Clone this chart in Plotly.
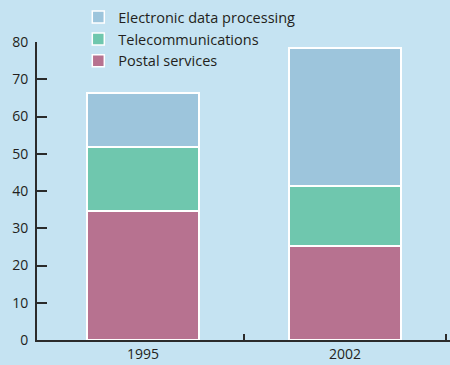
import plotly.graph_objects as go

years = ["1995", "2002"]
postal = [34.6, 25.2]
telecom = [17.2, 16.1]
edp = [14.5, 37.1]

series = [
    ("Postal services", postal, "#b77290"),
    ("Telecommunications", telecom, "#6fc7ae"),
    ("Electronic data processing", edp, "#9dc5dc"),
]

xpos = list(range(len(years)))
fig = go.Figure()
for name, vals, color in series:
    fig.add_trace(go.Bar(
        x=xpos, y=vals, name=name, width=0.555,
        marker=dict(color=color, line=dict(color="white", width=1.5)),
    ))

bg = "#c5e3f2"
axis_col = "#2b2b2b"
fig.update_layout(
    width=450, height=365,
    barmode="stack",
    paper_bgcolor=bg, plot_bgcolor=bg,
    margin=dict(l=37, r=0, t=42, b=25),
    font=dict(family="Open Sans", size=14, color="#231f20"),
    showlegend=True,
    legend=dict(
        x=0.10, y=1.137, xanchor="left", yanchor="top",
        traceorder="reversed", bgcolor="rgba(0,0,0,0)",
        font=dict(size=14.5), itemwidth=30,
    ),
    xaxis=dict(
        range=[-0.525, 1.52], tickvals=xpos, ticktext=years,
        showline=True, linecolor=axis_col, linewidth=1.5,
        ticks="", showgrid=False, zeroline=False,
        minor=dict(tickmode="array", tickvals=[0.5, 1.5], ticks="inside",
                   ticklen=6, tickcolor=axis_col, tickwidth=1.5, showgrid=False),
    ),
    yaxis=dict(
        range=[0, 80], tickvals=list(range(0, 81, 10)),
        showline=True, linecolor=axis_col, linewidth=2,
        ticks="inside", ticklen=10, tickcolor=axis_col, tickwidth=1.5,
        showgrid=False, zeroline=False, ticklabelstandoff=4,
    ),
)

fig.write_html("out.html")
